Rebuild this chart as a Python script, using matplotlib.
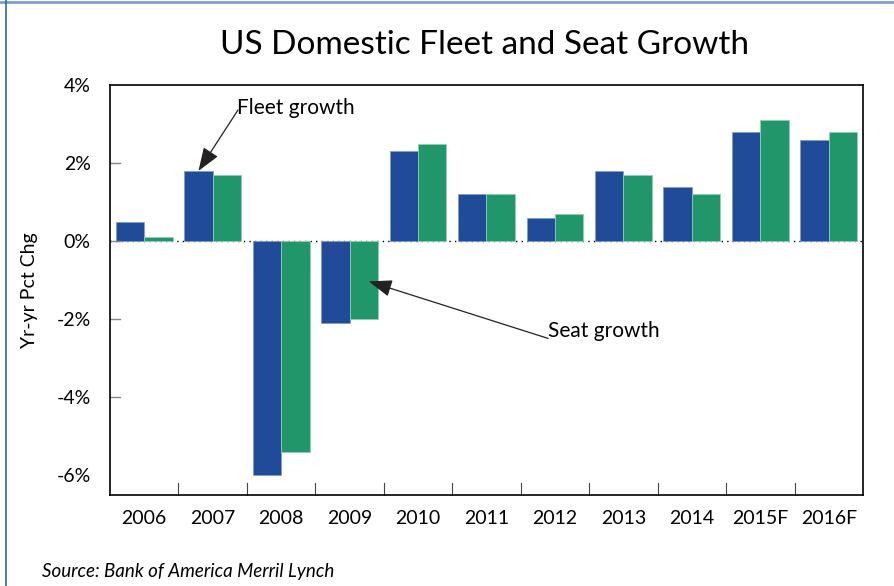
import numpy as np
import matplotlib
matplotlib.use("Agg")
import matplotlib.pyplot as plt
from matplotlib.lines import Line2D

years = ["2006", "2007", "2008", "2009", "2010", "2011", "2012", "2013", "2014", "2015F", "2016F"]
fleet = [0.5, 1.8, -6.0, -2.1, 2.3, 1.2, 0.6, 1.8, 1.4, 2.8, 2.6]
seat = [0.1, 1.7, -5.4, -2.0, 2.5, 1.2, 0.7, 1.7, 1.2, 3.1, 2.8]
yticks = [4, 2, 0, -2, -4, -6]

plt.rcParams['font.family'] = ['Lato', 'DejaVu Sans']

fig = plt.figure(figsize=(8.95, 5.86), dpi=100)
ax = fig.add_axes([110 / 895, 1 - 495 / 586, (863 - 110) / 895, (495 - 85) / 586])

x = np.arange(len(years))
w = 0.415
ax.bar(x - w / 2, fleet, w, color="#1f4b99", edgecolor="#7f9ccc", linewidth=0.6, zorder=2)
ax.bar(x + w / 2, seat, w, color="#21966a", edgecolor="#8fd0b4", linewidth=0.6, zorder=2)
ax.axhline(0, color="black", linestyle=(0, (1, 3)), linewidth=1, zorder=1)

ax.set_xlim(-0.5, len(years) - 0.5)
ax.set_ylim(-6.5, 4)
ax.set_yticks(yticks)
ax.set_yticklabels([f"{t}%" for t in yticks], fontsize=14)
ax.set_xticks(x)
ax.set_xticklabels(years, fontsize=14)
ax.tick_params(axis="x", length=0, pad=11)
ax.tick_params(axis="y", length=0, pad=14)
# category boundary ticks along the bottom, short gray ticks inside on the left
for b in np.arange(0.5, len(years) - 1, 1):
    ax.plot([b, b], [-6.5, -6.2], color="#444444", linewidth=0.8, clip_on=False)
for t in yticks[1:-1]:
    ax.plot([-0.5, -0.36], [t, t], color="#888888", linewidth=1)
for s in ax.spines.values():
    s.set_linewidth(1.2)

ax.set_ylabel("Yr-yr Pct Chg", fontsize=14, labelpad=13)
fig.text(485 / 895, 1 - 45 / 586, "US Domestic Fleet and Seat Growth", fontsize=24,
         ha="center", va="center")
fig.text(42 / 895, 1 - 572 / 586, "Source: Bank of America Merril Lynch", fontsize=13.5,
         style="italic", ha="left", va="center")

# callouts: arrow drawn separately from the label text
arrow = dict(arrowstyle="-|>,head_length=0.6,head_width=0.22", color="#222222", lw=0.9,
             mutation_scale=24, shrinkA=0, shrinkB=0)
ax.annotate("", xy=(1 - w / 2, 1.8), xytext=(1.37, 3.36), arrowprops=arrow, zorder=4)
ax.text(1.355, 3.41, "Fleet growth", fontsize=15, ha="left", va="center")
ax.annotate("", xy=(3.28, -1.03), xytext=(5.9, -2.49), arrowprops=arrow, zorder=4)
ax.text(5.9, -2.3, "Seat growth", fontsize=15, ha="left", va="center")

# outer frame lines (top and left visible in the source)
fig.add_artist(Line2D([0, 1], [0.997, 0.997], color="#7f9fc8", linewidth=2, transform=fig.transFigure))
fig.add_artist(Line2D([0.007, 0.007], [0, 1], color="#3563a3", linewidth=1.2, transform=fig.transFigure))

fig.savefig("out.png", dpi=100)
